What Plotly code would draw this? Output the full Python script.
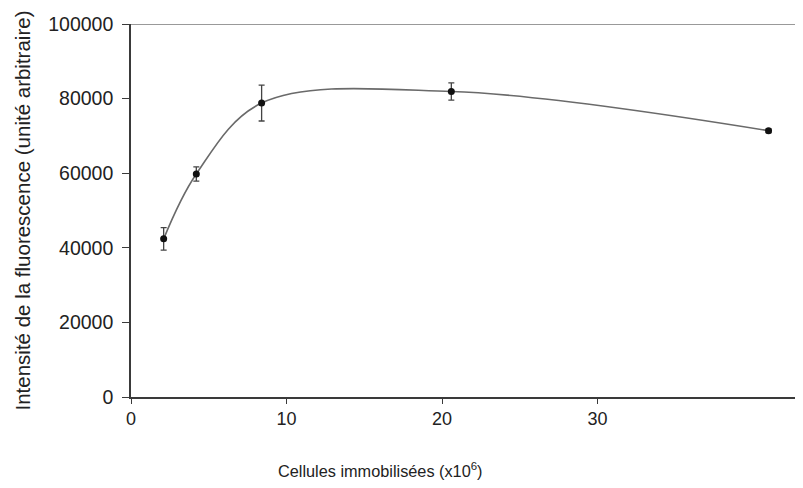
import plotly.graph_objects as go

cells = [2.1, 4.2, 8.4, 20.6, 41.0]            # cellules immobilisées (x10^6)
intensity = [42400, 59800, 78800, 81900, 71400]  # intensité (unité arbitraire)
errors = [3000, 1900, 4800, 2300, 500]

y_ticks = [0, 20000, 40000, 60000, 80000, 100000]
y_labels = [str(v) for v in y_ticks]
x_ticks = [0, 10, 20, 30]

# page body keeps an 8px margin, so the figure is sized/shifted to fit
OFF = 8
W, H = 803 - 2 * OFF, 488 - 2 * OFF
L, T = 131 - OFF, 24 - OFF
B = H - (397.5 - OFF)
FONT = "Liberation Sans, Arial, sans-serif"
AXIS = "#3a3a3a"

fig = go.Figure()

fig.add_trace(go.Scatter(
    x=cells, y=intensity,
    mode="lines+markers",
    line=dict(color="#6a6a6a", width=1.6, shape="spline", smoothing=1.0),
    marker=dict(color="#111111", size=7),
    error_y=dict(type="data", array=errors, visible=True,
                 color="#444444", thickness=1.3, width=3),
    showlegend=False,
))

fig.update_layout(
    width=W, height=H,
    margin=dict(l=L, r=0, t=T, b=B),
    paper_bgcolor="white", plot_bgcolor="white",
    font=dict(family=FONT, size=18, color="#222222"),
    xaxis=dict(
        range=[0, (W - L) / 15.55], tickvals=x_ticks, showgrid=False, zeroline=False,
        showline=True, linecolor=AXIS, linewidth=1.6, automargin=False,
        ticks="outside", ticklen=5, tickcolor=AXIS, tickwidth=1.3,
        ticklabelstandoff=0, tickfont=dict(size=18),
    ),
    yaxis=dict(
        range=[0, 100000], tickvals=y_ticks, ticktext=y_labels,
        showgrid=False, zeroline=False, automargin=False,
        showline=True, linecolor=AXIS, linewidth=1.6,
        ticks="outside", ticklen=7, tickcolor=AXIS, tickwidth=1.3,
        ticklabelstandoff=5, tickfont=dict(size=19.5),
    ),
)

# top border of the frame
fig.add_shape(type="line", xref="paper", yref="y", x0=0, x1=1,
              y0=100000, y1=100000, line=dict(color="#777777", width=1.5))

fig.add_annotation(
    text="Intensité de la fluorescence (unité arbitraire)",
    xref="paper", yref="paper", x=(22 - OFF - L) / (W - L), y=0.5,
    xanchor="center", yanchor="middle", textangle=-90, showarrow=False,
    font=dict(size=20.5),
)
fig.add_annotation(
    text="Cellules immobilisées (x10<sup>6</sup>)",
    xref="paper", yref="paper", x=(380 - OFF - L) / (W - L),
    y=-(471 - 397.5) / (H - B - T),
    xanchor="center", yanchor="middle", showarrow=False,
    font=dict(size=16.3),
)

fig.write_html("out.html")
